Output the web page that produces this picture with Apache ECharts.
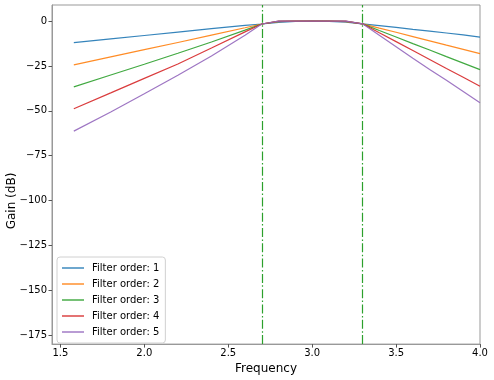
<!DOCTYPE html>
<html>
<head>
<meta charset="utf-8">
<script src="https://cdn.jsdelivr.net/npm/echarts@6/dist/echarts.min.js"></script>
<style>html,body{margin:0;padding:0;background:#fff}#c{width:494px;height:380px}</style>
</head>
<body>
<div id="c"></div>
<script>
var freq = [1.58, 1.8, 2.0, 2.2, 2.4, 2.6, 2.7, 2.8, 2.9, 3.0, 3.1, 3.2, 3.3, 3.4, 3.5, 3.6, 3.7, 3.8, 3.9, 4.0];
var order1 = [-12.0, -9.9, -8.0, -6.1, -4.2, -2.4, -1.6, -0.7, -0.2, 0, -0.15, -0.6, -1.5, -2.5, -3.5, -4.6, -5.6, -6.6, -7.7, -8.9];
var order2 = [-24.4, -19.9, -15.9, -11.9, -7.8, -3.7, -1.6, -0.3, 0, 0, 0, -0.3, -1.5, -3.9, -6.2, -8.6, -11.0, -13.4, -15.7, -18.1];
var order3 = [-36.6, -30.0, -24.0, -17.9, -11.6, -5.0, -1.6, -0.1, 0, 0, 0, -0.1, -1.5, -5.2, -8.8, -12.5, -16.1, -19.8, -23.4, -27.0];
var order4 = [-48.8, -40.0, -31.9, -23.9, -15.0, -6.0, -1.6, 0, 0, 0, 0, 0, -1.5, -6.5, -11.4, -16.4, -21.4, -26.4, -31.3, -36.3];
var order5 = [-61.3, -50.6, -40.5, -30.2, -19.4, -7.8, -1.6, 0, 0, 0, 0, 0, -1.5, -7.9, -14.3, -20.7, -26.9, -33.0, -39.2, -45.5];
var seriesNames = ['Filter order: 1', 'Filter order: 2', 'Filter order: 3', 'Filter order: 4', 'Filter order: 5'];
var colors = ['#1f77b4', '#ff7f0e', '#2ca02c', '#d62728', '#9467bd'];
var cutoffs = [2.7, 3.3];
var xTicks = [1.5, 2.0, 2.5, 3.0, 3.5, 4.0];
var yTicks = [-175, -150, -125, -100, -75, -50, -25, 0];

var gains = [order1, order2, order3, order4, order5];
var FONT = 'DejaVu Sans';
var axisColor = '#999';

var series = gains.map(function (g, i) {
  return {
    name: seriesNames[i],
    type: 'line',
    symbol: 'none',
    data: freq.map(function (f, j) { return [f, g[j]]; }),
    lineStyle: { color: colors[i], width: 1.2, opacity: 0.9 },
    itemStyle: { color: colors[i] },
    z: 3 + i
  };
});
series.push({
  name: 'cutoff',
  type: 'line',
  data: [],
  silent: true,
  markLine: {
    silent: true,
    symbol: ['none', 'none'],
    label: { show: false },
    lineStyle: { color: '#2ca02c', width: 1.2, type: [9, 2.4, 1.5, 2.4], opacity: 1 },
    emphasis: { disabled: true },
    data: cutoffs.map(function (c) { return { xAxis: c }; })
  }
});

var chart = echarts.init(document.getElementById('c'), null, { renderer: 'canvas' });
chart.setOption({
  animation: false,
  grid: { left: 52, right: 14, top: 5, bottom: 34.5, show: true, borderColor: axisColor, borderWidth: 1 },
  xAxis: {
    type: 'value', min: 1.45, max: 4.0,
    name: 'Frequency', nameLocation: 'middle', nameGap: 16,
    nameTextStyle: { fontFamily: FONT, fontSize: 12, color: '#000' },
    axisLine: { show: true, onZero: false, lineStyle: { color: axisColor } },
    axisTick: { show: true, length: 3.5, lineStyle: { color: '#555' }, customValues: xTicks },
    axisLabel: { fontFamily: FONT, fontSize: 10, color: '#000', margin: 4, customValues: xTicks,
      formatter: function (v) { return v.toFixed(1); } },
    splitLine: { show: false }
  },
  yAxis: {
    type: 'value', min: -180, max: 9,
    axisLine: { show: true, onZero: false, lineStyle: { color: axisColor } },
    axisTick: { show: true, length: 3.5, lineStyle: { color: '#555' }, customValues: yTicks },
    axisLabel: { fontFamily: FONT, fontSize: 10, color: '#000', margin: 5, customValues: yTicks,
      formatter: function (v) { return v < 0 ? '\u2212' + Math.abs(v) : String(v); } },
    splitLine: { show: false }
  },
  legend: {
    data: seriesNames,
    orient: 'vertical',
    left: 57, top: 257,
    padding: [5, 6, 5, 5],
    icon: 'rect',
    itemWidth: 22, itemHeight: 1.3, itemGap: 4,
    backgroundColor: 'rgba(255,255,255,0.8)',
    borderColor: '#d0d0d0', borderWidth: 1, borderRadius: 3,
    textStyle: { fontFamily: FONT, fontSize: 10, color: '#000', lineHeight: 12, padding: [0, 0, 0, 3] }
  },
  graphic: [{
    type: 'text',
    x: 12, y: 201,
    rotation: Math.PI / 2,
    style: { text: 'Gain (dB)', fontFamily: FONT, fontSize: 12, fill: '#000', textAlign: 'center', textVerticalAlign: 'middle' }
  }],
  series: series
});
</script>
</body>
</html>
